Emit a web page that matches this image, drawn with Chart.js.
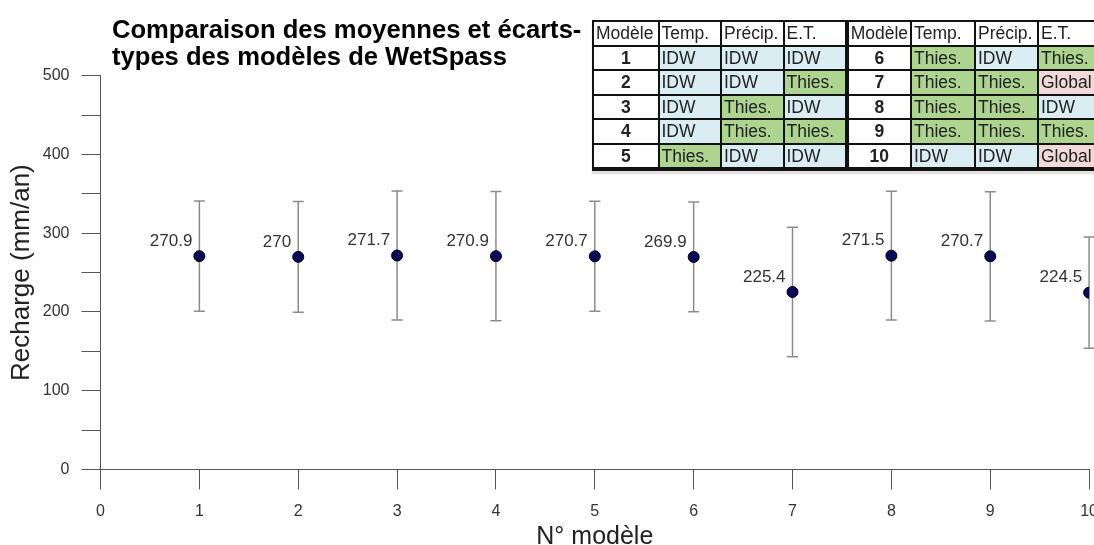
<!DOCTYPE html>
<html lang="fr">
<head>
<meta charset="utf-8">
<title>Comparaison des moyennes et écarts-types des modèles de WetSpass</title>
<script src="https://cdn.jsdelivr.net/npm/chart.js@4.4.1/dist/chart.umd.min.js"></script>
<style>
  html, body { margin: 0; padding: 0; background: #fff; }
  body { width: 1094px; height: 545px; overflow: hidden; position: relative;
         font-family: 'Liberation Sans', Arial, sans-serif; }
  #wrap { position: absolute; left: 0; top: 0; width: 1110px; height: 545px; }
  #title { position: absolute; left: 112px; top: 16px; font-weight: bold; font-size: 25.6px;
           line-height: 26.7px; color: #000; white-space: nowrap; }
  #models { position: absolute; left: 592px; top: 20px; width: 510px; border-collapse: collapse;
            table-layout: fixed; font-size: 17.5px; color: #222;
            box-shadow: 0 3px 1px rgba(0,0,0,0.12); background: #fff; }
  #models td { border: 2px solid #111; height: 22.5px; padding: 0 0 0 2px; line-height: 20px;
               white-space: nowrap; overflow: hidden; }
  #models td.num { text-align: center; font-weight: bold; padding: 0; }
  #models td.sep { border-left-width: 4px; }
  #models tr:last-child td { border-bottom-width: 4px; }
  #models td.IDW { background: #daedf3; }
  #models td.Thies { background: #aed58f; }
  #models td.Global { background: #f1d9d8; }
</style>
</head>
<body>
<div id="wrap"><canvas id="chart"></canvas></div>
<div id="title">Comparaison des moyennes et écarts-<br>types des modèles de WetSpass</div>
<table id="models"></table>
<script>
// Model numbers and the mean annual recharge of each model (mm/an)
const models = [1, 2, 3, 4, 5, 6, 7, 8, 9, 10];
const means = [270.9, 270, 271.7, 270.9, 270.7, 269.9, 225.4, 271.5, 270.7, 224.5];
// Standard deviation of each model's recharge (mm/an)
const stdDevs = [70.0, 70.2, 82.0, 82.0, 69.8, 69.7, 82.3, 81.8, 82.0, 70.6];

// Interpolation method used for each input of each model
const tableHeader = ['Modèle', 'Temp.', 'Précip.', 'E.T.'];
const tableTemp = ['IDW', 'IDW', 'IDW', 'IDW', 'Thies.', 'Thies.', 'Thies.', 'Thies.', 'Thies.', 'IDW'];
const tablePrecip = ['IDW', 'IDW', 'Thies.', 'Thies.', 'IDW', 'IDW', 'Thies.', 'Thies.', 'Thies.', 'IDW'];
const tableET = ['IDW', 'Thies.', 'IDW', 'Thies.', 'IDW', 'Thies.', 'Global', 'IDW', 'Thies.', 'Global'];

// Build the two-half method table (models 1-5 left, 6-10 right)
(function buildTable() {
  const table = document.getElementById('models');
  const colWidths = [65.5, 62.5, 62.5, 63.2, 64.3, 64, 63, 63];
  const colgroup = document.createElement('colgroup');
  colWidths.forEach(w => {
    const c = document.createElement('col');
    c.style.width = w + 'px';
    colgroup.appendChild(c);
  });
  table.appendChild(colgroup);
  const cls = v => v.replace('.', '');
  const head = document.createElement('tr');
  [...tableHeader, ...tableHeader].forEach((h, k) => {
    const td = document.createElement('td');
    td.textContent = h;
    if (k === 4) td.className = 'sep';
    head.appendChild(td);
  });
  table.appendChild(head);
  for (let r = 0; r < 5; r++) {
    const tr = document.createElement('tr');
    [r, r + 5].forEach((i, half) => {
      const num = document.createElement('td');
      num.textContent = models[i];
      num.className = 'num' + (half === 1 ? ' sep' : '');
      tr.appendChild(num);
      [tableTemp[i], tablePrecip[i], tableET[i]].forEach(v => {
        const td = document.createElement('td');
        td.textContent = v;
        td.className = cls(v);
        tr.appendChild(td);
      });
    });
    table.appendChild(tr);
  }
})();

const FONT = "'Liberation Sans', Arial, sans-serif";

// Vertical ±1 standard deviation bars with end caps, under the points
const errorBars = {
  id: 'errorBars',
  beforeDatasetsDraw(chart) {
    const { ctx, scales: { x, y } } = chart;
    ctx.save();
    ctx.strokeStyle = '#8c8c8c';
    ctx.lineWidth = 1.5;
    models.forEach((m, i) => {
      const px = x.getPixelForValue(m);
      const top = y.getPixelForValue(means[i] + stdDevs[i]);
      const bot = y.getPixelForValue(means[i] - stdDevs[i]);
      ctx.beginPath();
      ctx.moveTo(px, top); ctx.lineTo(px, bot);
      ctx.moveTo(px - 5.5, top); ctx.lineTo(px + 5.5, top);
      ctx.moveTo(px - 5.5, bot); ctx.lineTo(px + 5.5, bot);
      ctx.stroke();
    });
    ctx.restore();
  }
};

// Mean value written up and to the left of each point
const valueLabels = {
  id: 'valueLabels',
  afterDatasetsDraw(chart) {
    const { ctx } = chart;
    const meta = chart.getDatasetMeta(0);
    ctx.save();
    ctx.font = '17px ' + FONT;
    ctx.fillStyle = '#333';
    ctx.textAlign = 'right';
    ctx.textBaseline = 'middle';
    meta.data.forEach((pt, i) => {
      ctx.fillText(String(means[i]), pt.x - 7, pt.y - 15);
    });
    ctx.restore();
  }
};

new Chart(document.getElementById('chart'), {
  type: 'scatter',
  data: {
    datasets: [{
      data: models.map((m, i) => ({ x: m, y: means[i] })),
      backgroundColor: '#0a0a5c',
      borderColor: '#000',
      borderWidth: 1,
      pointRadius: 5.5,
      pointHoverRadius: 5.5
    }]
  },
  options: {
    responsive: true,
    maintainAspectRatio: false,
    animation: false,
    events: [],
    layout: { autoPadding: false, padding: { top: 75.7, right: 0, bottom: 0, left: 0 } },
    plugins: { legend: { display: false }, tooltip: { enabled: false }, title: { display: false } },
    scales: {
      x: {
        type: 'linear', min: 0, max: 10,
        afterFit: s => { s.height = 75.5; },
        ticks: { stepSize: 1, padding: 12, color: '#333', font: { family: FONT, size: 16 } },
        grid: { drawOnChartArea: false, drawTicks: true, tickLength: 20, color: '#555', lineWidth: 1 },
        border: { display: true, color: '#555', width: 1 },
        title: { display: true, text: 'N° modèle', color: '#222',
                 font: { family: FONT, size: 25, lineHeight: 0.66 }, padding: 0 }
      },
      y: {
        type: 'linear', min: 0, max: 500,
        afterFit: s => { s.width = 100.5; },
        ticks: { stepSize: 50, padding: 12, color: '#333', font: { family: FONT, size: 16 },
                 callback: v => (v % 100 === 0 ? String(v) : '') },
        grid: { drawOnChartArea: false, drawTicks: true, tickLength: 19, color: '#555', lineWidth: 1 },
        border: { display: true, color: '#555', width: 1 },
        title: { display: true, text: 'Recharge (mm/an)', color: '#222',
                 font: { family: FONT, size: 26, lineHeight: 1.2 }, padding: { top: 6, bottom: 0 } }
      }
    }
  },
  plugins: [errorBars, valueLabels]
});
</script>
</body>
</html>
